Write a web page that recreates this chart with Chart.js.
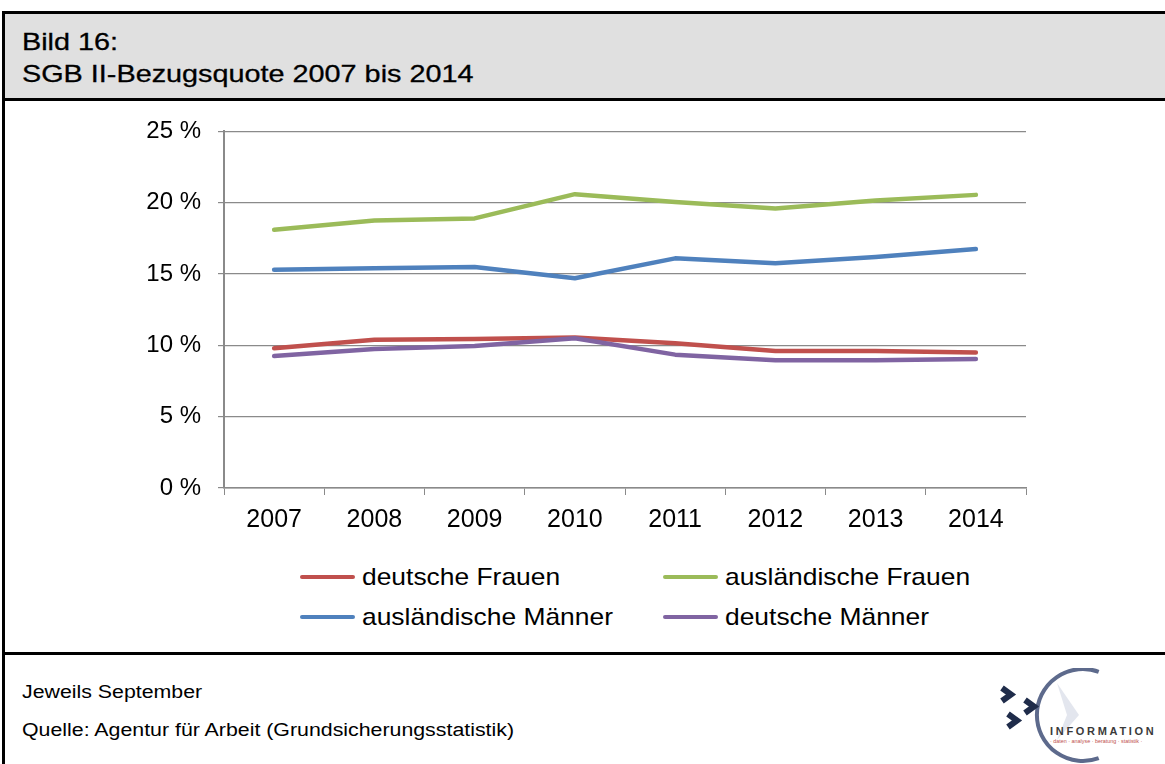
<!DOCTYPE html>
<html lang="de">
<head>
<meta charset="utf-8">
<title>SGB II-Bezugsquote 2007 bis 2014</title>
<script src="https://cdn.jsdelivr.net/npm/chart.js@4"></script>
<style>
  html, body { margin: 0; padding: 0; background: #fff; }
  body { width: 1165px; height: 764px; position: relative; overflow: hidden; font-family: "Liberation Sans", Arial, sans-serif; color: #000; }
  #frame { position: absolute; left: 2px; top: 11px; width: 1200px; height: 800px; border-left: 3px solid #000; border-top: 3px solid #000; }
  #header { position: absolute; left: 5px; top: 14px; width: 1200px; height: 84px; background: #e0e0e0; border-bottom: 3px solid #000; }
  #header div { position: absolute; left: 17px; font-size: 24px; line-height: 28px; white-space: nowrap;
    transform: scaleX(1.2); transform-origin: left center; -webkit-text-stroke: 0.3px #000; }
  #sep { position: absolute; left: 5px; top: 652px; width: 1200px; height: 3px; background: #000; }
  #chartBox { position: absolute; left: 0; top: 100px; width: 1165px; height: 450px; }
  #legend { position: absolute; left: 0; top: 563px; width: 1165px; }
  .item { position: absolute; height: 28px; display: flex; align-items: center; white-space: nowrap; }
  .item .swatch { display: inline-block; width: 55px; height: 4px; border-radius: 2px; margin-right: 7px; }
  .item .txt { display: inline-block; font-size: 24px; transform: scaleX(1.1); transform-origin: left center; }
  .foot { position: absolute; left: 22px; font-size: 18px; white-space: nowrap; transform: scaleX(1.185); transform-origin: left center; }
  #logo { position: absolute; left: 995px; top: 668px; }
</style>
</head>
<body>
<div id="frame"></div>
<div id="header">
  <div style="top:14px">Bild 16:</div>
  <div style="top:46px">SGB II-Bezugsquote 2007 bis 2014</div>
</div>
<div id="chartBox"><canvas id="quoteChart"></canvas></div>
<div id="legend"></div>
<div id="sep"></div>
<div class="foot" style="top:682px">Jeweils September</div>
<div class="foot" style="top:720px">Quelle: Agentur für Arbeit (Grundsicherungsstatistik)</div>
<svg id="logo" width="170" height="96" viewBox="0 0 170 96">
  <path d="M62 15 L84 47 L62 72 L72 47 Z" fill="#e3e6ee"/>
  <path d="M103.7 3.8 A46 46 0 1 0 103.7 90.2" fill="none" stroke="#5d6a8c" stroke-width="4"/>
  <path d="M7 20 L16 26.5 L7 33" fill="none" stroke="#1f2c4a" stroke-width="6"/>
  <path d="M30 32 L39 38.5 L30 45" fill="none" stroke="#1f2c4a" stroke-width="6"/>
  <path d="M13 46 L22 52.5 L13 59" fill="none" stroke="#1f2c4a" stroke-width="6"/>
  <text x="55" y="67" font-family="Liberation Sans, Arial" font-size="11" font-weight="bold" letter-spacing="2.7" fill="#3a3a3a">INFORMATION</text>
  <text x="55" y="75" font-family="Liberation Sans, Arial" font-size="5.4" fill="#c0504d">· daten · analyse · beratung · statistik ·</text>
</svg>
<script>
const years = ['2007', '2008', '2009', '2010', '2011', '2012', '2013', '2014'];
const deutscheFrauen = [9.8, 10.4, 10.45, 10.55, 10.15, 9.6, 9.6, 9.5];
const auslaendischeFrauen = [18.1, 18.75, 18.9, 20.6, 20.05, 19.6, 20.15, 20.55];
const auslaendischeMaenner = [15.3, 15.4, 15.5, 14.7, 16.1, 15.75, 16.2, 16.75];
const deutscheMaenner = [9.25, 9.75, 9.95, 10.5, 9.35, 8.95, 8.95, 9.05];
const yTicks = [0, 5, 10, 15, 20, 25];

const gridColor = '#8a8a8a';

function line(label, data, color, order) {
  return {
    label: label,
    data: data,
    borderColor: color,
    backgroundColor: color,
    borderWidth: 4.5,
    borderCapStyle: 'round',
    borderJoinStyle: 'round',
    pointRadius: 0,
    tension: 0,
    order: order
  };
}

const ctx = document.getElementById('quoteChart').getContext('2d');
const quoteChart = new Chart(ctx, {
  type: 'line',
  data: {
    labels: years,
    datasets: [
      line('deutsche Frauen', deutscheFrauen, '#c0504d', 1),
      line('ausländische Frauen', auslaendischeFrauen, '#9bbb59', 2),
      line('ausländische Männer', auslaendischeMaenner, '#4f81bd', 3),
      line('deutsche Männer', deutscheMaenner, '#8064a2', 0)
    ]
  },
  options: {
    responsive: true,
    maintainAspectRatio: false,
    animation: false,
    layout: { padding: { left: 0, right: 139, top: 30, bottom: 0 } },
    plugins: {
      legend: { display: false },
      title: { display: false },
      tooltip: { enabled: false }
    },
    scales: {
      x: {
        offset: true,
        grid: { offset: true, drawOnChartArea: false, color: gridColor, tickLength: 7 },
        border: { color: gridColor, width: 1.5 },
        ticks: { color: '#000', font: { family: 'Liberation Sans', size: 25 }, padding: 10, maxRotation: 0 },
        afterFit: function(scale) { scale.height = 62; }
      },
      y: {
        min: 0,
        max: 25,
        afterBuildTicks: function(scale) { scale.ticks = yTicks.map(v => ({ value: v })); },
        grid: { color: gridColor, lineWidth: 1.2, tickLength: 6 },
        border: { color: gridColor, width: 2 },
        ticks: { color: '#000', font: { family: 'Liberation Sans', size: 24 }, padding: 17, callback: v => v + ' %' },
        afterFit: function(scale) { scale.width = 224; }
      }
    }
  }
});

// legend in two columns, like the original
const legendPos = [[300, 0], [663, 0], [300, 40], [663, 40]];
const legendBox = document.getElementById('legend');
quoteChart.data.datasets.forEach(function(ds, i) {
  const el = document.createElement('div');
  el.className = 'item';
  el.style.left = legendPos[i][0] + 'px';
  el.style.top = legendPos[i][1] + 'px';
  el.innerHTML = '<span class="swatch" style="background:' + ds.borderColor + '"></span><span class="txt">' + ds.label + '</span>';
  legendBox.appendChild(el);
});
</script>
</body>
</html>
